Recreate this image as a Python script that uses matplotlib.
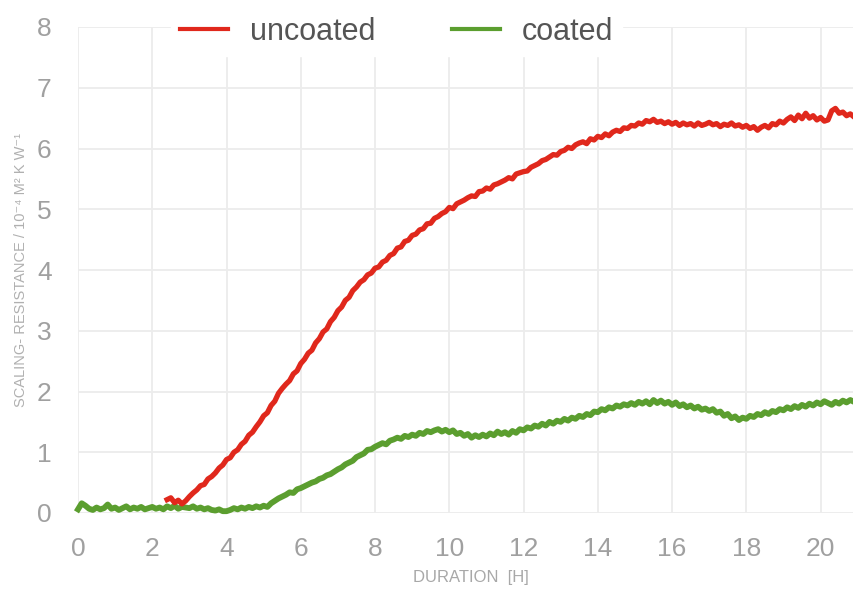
import numpy as np
import matplotlib
matplotlib.use("Agg")
import matplotlib.pyplot as plt

plt.rcParams['font.family'] = ['Liberation Sans', 'DejaVu Sans']

# scaling resistance readings, one every 0.1 h
t_step = 0.1
uncoated_start = 2.4
uncoated = [
    0.22, 0.25, 0.17, 0.21, 0.15, 0.20,
    0.27, 0.33, 0.38, 0.45, 0.47, 0.56, 0.60, 0.66, 0.74, 0.79,
    0.88, 0.91, 1.00, 1.04, 1.13, 1.18, 1.28, 1.33, 1.42, 1.50,
    1.60, 1.65, 1.77, 1.84, 1.97, 2.05, 2.12, 2.18, 2.29, 2.34,
    2.46, 2.53, 2.63, 2.68, 2.80, 2.87, 2.98, 3.03, 3.15, 3.22,
    3.33, 3.39, 3.50, 3.55, 3.66, 3.72, 3.80, 3.84, 3.92, 3.95,
    4.03, 4.05, 4.13, 4.16, 4.24, 4.27, 4.36, 4.38, 4.47, 4.49,
    4.57, 4.59, 4.66, 4.68, 4.76, 4.77, 4.85, 4.88, 4.93, 4.96,
    5.03, 5.01, 5.09, 5.12, 5.15, 5.19, 5.22, 5.21, 5.29, 5.30,
    5.35, 5.33, 5.40, 5.42, 5.45, 5.48, 5.52, 5.50, 5.58, 5.60,
    5.62, 5.63, 5.69, 5.72, 5.75, 5.80, 5.82, 5.86, 5.90, 5.89,
    5.95, 5.97, 6.02, 6.00, 6.06, 6.09, 6.11, 6.08, 6.16, 6.14,
    6.20, 6.18, 6.24, 6.21, 6.27, 6.30, 6.28, 6.34, 6.33, 6.38,
    6.37, 6.42, 6.40, 6.46, 6.44, 6.48, 6.43, 6.45, 6.41, 6.44,
    6.40, 6.43, 6.38, 6.42, 6.39, 6.41, 6.37, 6.42, 6.38, 6.40,
    6.43, 6.39, 6.41, 6.36, 6.40, 6.38, 6.42, 6.37, 6.39, 6.35,
    6.38, 6.33, 6.36, 6.30, 6.35, 6.38, 6.34, 6.41, 6.39, 6.45,
    6.42, 6.48, 6.52, 6.46, 6.55, 6.49, 6.58, 6.50, 6.54, 6.47,
    6.51, 6.45, 6.47, 6.62, 6.66, 6.58, 6.60, 6.54, 6.57, 6.52,
]
coated_start = 0.0
coated = [
    0.06, 0.16, 0.12, 0.07, 0.05, 0.09, 0.06, 0.08, 0.14, 0.07,
    0.09, 0.05, 0.08, 0.11, 0.06, 0.09, 0.07, 0.10, 0.06, 0.08,
    0.10, 0.07, 0.09, 0.06, 0.11, 0.08, 0.12, 0.07, 0.10, 0.09,
    0.08, 0.11, 0.07, 0.09, 0.06, 0.08, 0.05, 0.04, 0.06, 0.03,
    0.03, 0.05, 0.08, 0.06, 0.09, 0.07, 0.10, 0.08, 0.11, 0.09,
    0.12, 0.10, 0.16, 0.20, 0.24, 0.27, 0.30, 0.34, 0.33, 0.39,
    0.41, 0.44, 0.47, 0.50, 0.52, 0.56, 0.58, 0.62, 0.64, 0.68,
    0.72, 0.75, 0.80, 0.83, 0.86, 0.92, 0.95, 0.98, 1.04, 1.05,
    1.09, 1.12, 1.15, 1.13, 1.19, 1.21, 1.24, 1.22, 1.27, 1.25,
    1.29, 1.27, 1.32, 1.30, 1.35, 1.33, 1.36, 1.38, 1.34, 1.37,
    1.33, 1.36, 1.30, 1.32, 1.27, 1.30, 1.24, 1.28, 1.25, 1.29,
    1.26, 1.31, 1.28, 1.34, 1.30, 1.33, 1.29, 1.35, 1.32, 1.38,
    1.36, 1.41, 1.39, 1.44, 1.42, 1.47, 1.44, 1.50, 1.47, 1.52,
    1.50, 1.55, 1.52, 1.57, 1.55, 1.60, 1.58, 1.63, 1.61, 1.67,
    1.66, 1.71, 1.69, 1.74, 1.72, 1.77, 1.75, 1.79, 1.77, 1.81,
    1.78, 1.83, 1.80, 1.84, 1.79, 1.86, 1.81, 1.85, 1.80, 1.83,
    1.78, 1.82, 1.76, 1.79, 1.74, 1.77, 1.72, 1.75, 1.70, 1.72,
    1.68, 1.71, 1.65, 1.67, 1.60, 1.63, 1.56, 1.59, 1.53, 1.57,
    1.55, 1.60, 1.58, 1.63, 1.61, 1.66, 1.63, 1.68, 1.66, 1.71,
    1.69, 1.74, 1.71, 1.76, 1.73, 1.78, 1.75, 1.80, 1.77, 1.82,
    1.79, 1.84, 1.81, 1.78, 1.83, 1.80, 1.85, 1.82, 1.86, 1.83,
]
labels = ["uncoated", "coated"]
xticks = list(range(0, 21, 2))
yticks = list(range(0, 9))

t_unc = uncoated_start + t_step * np.arange(len(uncoated))
t_coa = coated_start + t_step * np.arange(len(coated))

fig = plt.figure(figsize=(8.54, 5.93), dpi=100)
ax = fig.add_axes([78 / 854, 80 / 593, 776 / 854, 486 / 593])

ax.plot(t_unc, uncoated, color="#e0281c", lw=3.8, label=labels[0], clip_on=False, zorder=3)
ax.plot(t_coa, coated, color="#5b9e2f", lw=4.2, label=labels[1], clip_on=False, zorder=2)

ax.set_xlim(0, 20.9)
ax.set_ylim(0, 8)
ax.set_xticks(xticks)
ax.set_yticks(yticks)
ax.grid(True, color="#ececec", lw=1.3)
ax.set_axisbelow(True)
for s in ax.spines.values():
    s.set_visible(False)
ax.tick_params(axis="both", length=0, labelsize=19, labelcolor="#a0a0a0")
ax.tick_params(axis="x", pad=17)
ax.tick_params(axis="y", pad=19)

ax.set_xlabel("DURATION  [H]", fontsize=12, color="#a8a8a8")
ax.xaxis.set_label_coords(0.506, -0.118)
ax.set_ylabel("SCALING- RESISTANCE / 10\u207b\u2074 M\u00b2 K W\u207b\u00b9",
              fontsize=10.5, color="#b0b0b0")
ax.yaxis.set_label_coords(-0.065, 0.5)

leg = ax.legend(loc="center left", bbox_to_anchor=(171 / 854, 1 - 32 / 593),
                bbox_transform=fig.transFigure, ncol=2, fontsize=22,
                frameon=True, fancybox=False, facecolor="white", edgecolor="white",
                framealpha=1, borderpad=0.3, borderaxespad=0,
                handlelength=1.57, handletextpad=0.72, columnspacing=2.5)
for line in leg.get_lines():
    line.set_linewidth(3.0)
for txt in leg.get_texts():
    txt.set_color("#555555")

fig.savefig("out.png", dpi=100)
